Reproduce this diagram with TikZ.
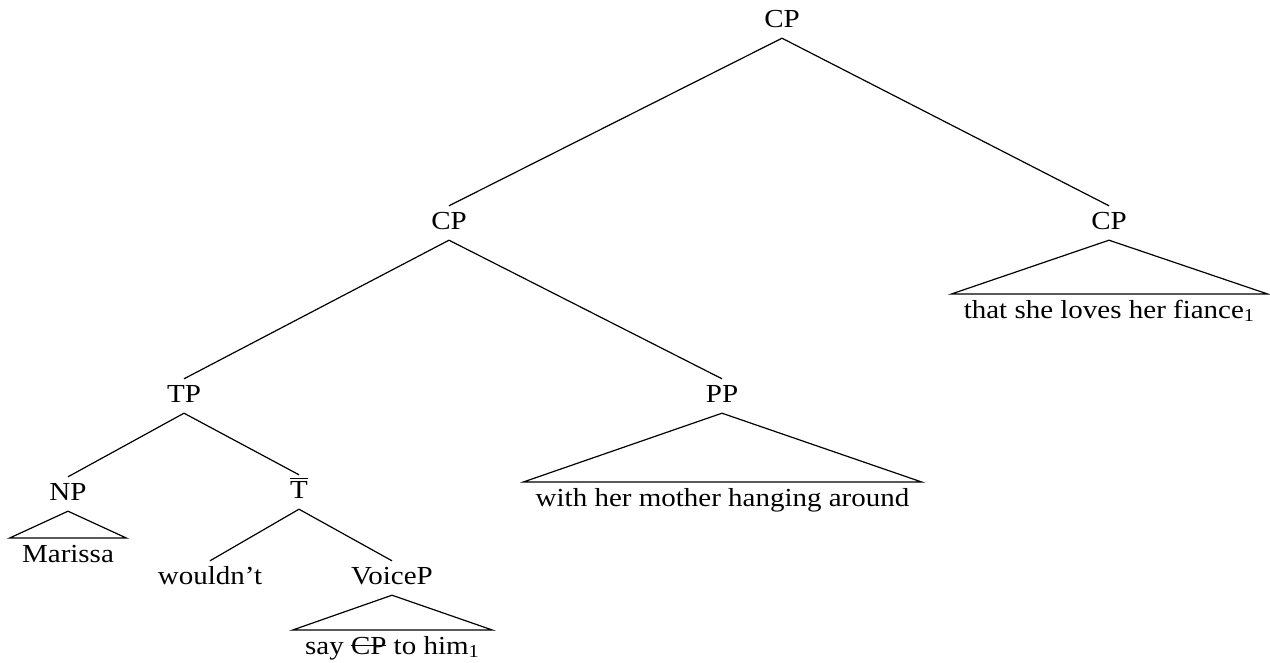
\documentclass[tikz,border=0pt]{standalone}
\usepackage{fontspec}
\usepackage{graphicx}
\setmainfont{Liberation Serif}
% slightly widened glyphs
\newcommand\widetext[1]{\scalebox{1.115}[1]{#1}}
% struck-out word
\newcommand\struckword[1]{\setbox0=\hbox{#1}\rlap{\rule[0.3em]{\wd0}{0.06em}}\box0\relax}
\begin{document}
\begin{tikzpicture}[x=0.5pt,y=-0.5pt,
  every node/.style={font=\fontsize{13pt}{15pt}\selectfont},
  cat/.style={inner xsep=0pt, inner ysep=5.1pt, text height=0.66em, text depth=0pt, anchor=center},
  leaf/.style={inner xsep=6pt, inner ysep=5.1pt, text height=0.68em, text depth=0pt, anchor=north},
  branch/.style={line width=0.6pt},
  roof/.style={line width=0.6pt, line join=miter}]
\useasboundingbox (0,0) rectangle (1270,663);

% category labels
\node[cat] (cp0) at (782,21)  {\widetext{CP}};
\node[cat] (cp1) at (449,223) {\widetext{CP}};
\node[cat] (cp2) at (1109,223) {\widetext{CP}};
\node[cat] (tp)  at (184,396) {\widetext{TP}};
\node[cat] (pp)  at (722,396) {\widetext{PP}};
\node[cat] (np)  at (68,494)  {\widetext{NP}};
\node[cat] (tb)  at (299,492) {\widetext{$\overline{\mbox{T}}$}};
\node[cat] (wd)  at (210,578) {\widetext{wouldn't}};
\node[cat] (vp)  at (392,578) {\widetext{VoiceP}};

% terminal strings under roofs
\node[leaf] (cp2s) at (1109.5,294) {\widetext{that she loves her fiance\textsubscript{1}}};
\node[leaf] (pps)  at (722.5,482)  {\widetext{with her mother hanging around}};
\node[leaf] (nps)  at (68,538)     {\widetext{Marissa}};
\node[leaf] (vps)  at (392.5,630)  {\widetext{say \struckword{CP} to him\textsubscript{1}}};

% branches
\draw[branch] (cp1.north) -- (cp0.south) -- (cp2.north);
\draw[branch] (tp.north) -- (cp1.south) -- (pp.north);
\draw[branch] (np.north) -- (tp.south) -- (tb.north);
\draw[branch] (wd.north) -- (tb.south) -- (vp.north);

% roofs
\draw[roof] (cp2.south) -- (cp2s.north west) -- (cp2s.north east) -- cycle;
\draw[roof] (pp.south) -- (pps.north west) -- (pps.north east) -- cycle;
\draw[roof] (np.south) -- (nps.north west) -- (nps.north east) -- cycle;
\draw[roof] (vp.south) -- (vps.north west) -- (vps.north east) -- cycle;
\end{tikzpicture}
\end{document}
